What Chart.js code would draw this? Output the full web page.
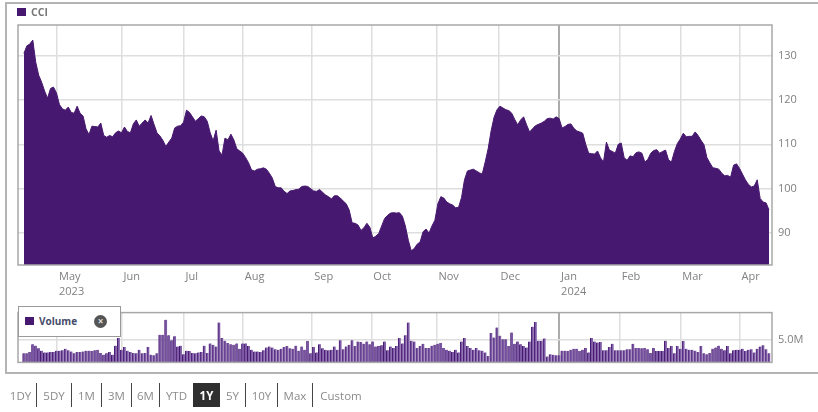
<!DOCTYPE html>
<html>
<head>
<meta charset="utf-8">
<title>CCI</title>
<script src="https://cdn.jsdelivr.net/npm/chart.js@4"></script>
<style>
    html, body { margin: 0; padding: 0; background: #fff; overflow: hidden; }
    body { width: 818px; height: 412px; position: relative; font-family: "Open Sans", sans-serif; }
    #page { position: absolute; left: 0; top: 0; width: 818px; height: 412px; filter: blur(0.45px); }
    #frame { position: absolute; left: 5px; top: 2px; width: 830px; height: 372px; border: 2px solid #b4b4b4; box-sizing: border-box; }
    canvas { position: absolute; left: 0; }
    #price-chart { top: 0; }
    #volume-chart { top: 300px; }
    .swatch { display: inline-block; width: 9px; height: 8px; background: #47186f; }
    #price-legend { position: absolute; left: 17px; top: 4px; font-size: 10.5px; font-weight: 700; color: #777; line-height: 16px; }
    #price-legend .swatch { margin-right: 5px; }
    #volume-legend { position: absolute; left: 18px; top: 306px; width: 103px; height: 31px; box-sizing: border-box; background: #fff; border: 1px solid #999; font-size: 10px; font-weight: 700; color: #444c6a; line-height: 29px; padding-left: 6px; }
    #volume-legend .swatch { margin-right: 5px; }
    #volume-legend .close { position: absolute; left: 75px; top: 8px; width: 13px; height: 13px; border-radius: 50%; background: #555; color: #ddd; font-size: 10px; line-height: 12px; text-align: center; }
    #ranges { position: absolute; left: 5px; top: 383px; height: 24px; display: flex; font-size: 11.5px; color: #8a8a8a; line-height: 25px; text-align: center; }
    #ranges span { box-sizing: border-box; border-right: 1.5px solid #444; }
    #ranges span.noline { border-right: none; }
    #ranges span.active { background: #2f2f2f; color: #fff; font-weight: 700; border-right: none; }
    #ranges span:nth-child(1) { width: 32px; }
    #ranges span:nth-child(2) { width: 35px; }
    #ranges span:nth-child(3) { width: 30px; }
    #ranges span:nth-child(4) { width: 30px; }
    #ranges span:nth-child(5) { width: 28px; }
    #ranges span:nth-child(6) { width: 33px; }
    #ranges span:nth-child(7) { width: 27px; }
    #ranges span:nth-child(8) { width: 26px; }
    #ranges span:nth-child(9) { width: 32px; }
    #ranges span:nth-child(10) { width: 35px; }
    #ranges span:nth-child(11) { width: 56px; }
</style>
</head>
<body>
<div id="page">
    <div id="frame"></div>
    <canvas id="price-chart" width="818" height="303"></canvas>
    <canvas id="volume-chart" width="818" height="75"></canvas>
    <div id="price-legend"><span class="swatch"></span>CCI</div>
    <div id="volume-legend"><span class="swatch"></span>Volume<span class="close">&#215;</span></div>
    <div id="ranges"></div>
</div>
<script>
// Daily closes, one per trading day
const closes = [
    130.5, 132.2, 132.6, 133.5, 128.5, 125.6, 124.0, 122.0, 120.4, 122.6,
    122.9, 121.6, 119.0, 118.0, 117.7, 118.4, 117.2, 117.0, 118.6, 117.0,
    116.4, 113.5, 112.2, 114.1, 114.0, 113.9, 114.8, 112.0, 111.6, 112.0,
    111.7, 112.6, 113.0, 112.6, 113.9, 112.9, 112.6, 114.6, 115.5, 114.1,
    114.8, 115.5, 114.8, 116.5, 114.5, 112.6, 111.9, 110.9, 109.5, 110.5,
    111.4, 113.7, 114.1, 114.2, 115.0, 117.7, 117.2, 116.2, 115.2, 115.8,
    116.4, 116.2, 115.2, 112.6, 110.8, 113.2, 108.5, 107.6, 111.4, 111.0,
    112.3, 111.0, 109.0, 108.5, 108.0, 107.0, 105.8, 104.2, 104.0, 104.4,
    104.5, 104.7, 104.4, 103.5, 102.4, 100.5, 100.2, 100.2, 99.4, 98.9,
    99.5, 99.6, 99.8, 99.9, 100.5, 100.6, 100.5, 100.0, 99.5, 99.4,
    99.8, 99.2, 98.6, 98.2, 97.7, 98.4, 98.4, 97.9, 97.2, 96.6,
    95.2, 92.3, 92.2, 91.8, 90.6, 91.2, 92.2, 91.3, 88.9, 89.3,
    89.9, 91.6, 93.3, 94.0, 94.5, 94.6, 94.5, 94.6, 93.8, 91.6,
    88.4, 86.0, 86.5, 87.5, 88.0, 90.3, 90.9, 90.0, 91.6, 92.9,
    96.6, 98.2, 97.9, 97.0, 96.6, 96.3, 95.7, 95.8, 98.0, 102.0,
    104.0, 104.2, 104.4, 104.0, 103.6, 103.3, 106.0, 109.0, 113.0, 116.1,
    117.8, 118.6, 118.2, 117.8, 117.6, 117.0, 115.6, 114.4, 115.5, 116.2,
    114.4, 112.8, 113.5, 114.2, 114.5, 114.8, 115.2, 115.8, 115.9, 115.7,
    116.2, 115.8, 113.7, 114.0, 114.5, 114.6, 113.6, 113.0, 112.8, 112.5,
    110.0, 108.0, 107.9, 107.8, 108.5, 107.0, 106.0, 110.5, 108.7, 108.4,
    108.0, 110.0, 110.3, 107.0, 106.4, 107.4, 107.2, 108.1, 108.3, 108.0,
    106.0, 106.6, 108.0, 108.6, 108.8, 108.0, 108.4, 108.7, 106.5, 106.0,
    108.4, 110.2, 111.2, 112.5, 111.7, 111.8, 111.8, 112.8, 112.0, 110.9,
    109.9, 107.0, 105.8, 104.7, 104.6, 104.4, 103.5, 102.9, 103.0, 102.6,
    105.3, 105.6, 104.6, 103.3, 102.0, 101.0, 100.4, 100.6, 102.0, 97.8,
    97.0, 96.8, 95.2
];

// Daily volume in millions of shares
const volumes = [
    2.0, 2.0, 2.3, 4.0, 3.7, 3.1, 2.6, 2.2, 2.2, 2.3,
    2.3, 2.6, 2.6, 2.7, 3.0, 2.7, 2.4, 2.0, 2.3, 2.3,
    2.4, 2.6, 2.6, 2.5, 2.7, 2.8, 2.1, 1.7, 2.0, 2.3,
    1.7, 3.7, 5.4, 2.8, 3.4, 2.6, 2.3, 2.1, 2.0, 2.8,
    2.0, 2.1, 3.4, 1.7, 1.6, 2.0, 6.1, 6.1, 9.4, 6.0,
    4.9, 5.8, 3.5, 3.7, 1.8, 2.6, 2.5, 2.1, 2.0, 2.2,
    2.3, 3.7, 2.1, 4.2, 3.9, 3.5, 8.8, 5.4, 4.8, 4.3,
    4.0, 3.9, 4.2, 3.0, 4.2, 4.2, 3.6, 2.8, 2.4, 2.4,
    2.3, 2.7, 3.3, 3.5, 3.3, 2.9, 2.8, 3.0, 3.4, 3.6,
    3.1, 3.0, 3.7, 2.6, 3.5, 2.8, 4.7, 2.0, 3.4, 2.2,
    4.0, 3.1, 2.8, 2.7, 2.8, 3.5, 2.8, 4.9, 2.9, 3.5,
    3.9, 4.9, 3.6, 4.6, 4.5, 4.1, 4.6, 4.0, 4.6, 3.5,
    3.6, 3.8, 4.6, 2.7, 3.5, 3.2, 3.6, 5.4, 4.2, 6.0,
    8.8, 4.8, 4.6, 3.2, 3.6, 4.1, 3.2, 3.2, 3.7, 3.9,
    4.1, 4.3, 3.2, 2.8, 2.6, 2.3, 2.8, 2.2, 4.6, 5.4,
    3.6, 3.2, 2.8, 3.2, 2.7, 2.6, 2.2, 1.4, 6.5, 5.5,
    7.7, 5.9, 5.1, 5.1, 3.6, 6.6, 4.1, 4.6, 4.0, 3.6,
    3.3, 4.6, 7.9, 8.9, 4.8, 4.8, 5.3, 1.3, 1.8, 1.7,
    1.6, 1.6, 2.6, 2.6, 2.5, 2.8, 3.0, 3.0, 2.5, 2.8,
    3.2, 2.2, 5.4, 4.6, 4.4, 4.5, 2.7, 2.7, 3.4, 4.1,
    2.7, 2.7, 2.7, 2.7, 2.9, 2.9, 4.1, 3.2, 3.2, 3.1,
    3.2, 2.9, 2.1, 3.2, 2.5, 2.5, 2.5, 4.8, 3.2, 3.6,
    2.0, 3.6, 3.0, 4.7, 3.0, 2.8, 2.8, 2.6, 2.3, 3.6,
    2.0, 1.8, 2.1, 3.0, 3.3, 3.7, 3.0, 2.7, 3.6, 2.0,
    2.7, 2.8, 2.8, 3.0, 2.5, 2.8, 2.9, 2.2, 3.0, 3.5,
    3.8, 2.9, 2.0
];

// Month ticks sit on the trading day index where each month starts
const monthTicks = [11.2, 33, 54, 74, 97.5, 117.5, 139.5, 160.5, 181, 201.5, 222, 242];
const monthLabels = [['May', '2023'], 'Jun', 'Jul', 'Aug', 'Sep', 'Oct', 'Nov', 'Dec', ['Jan', '2024'], 'Feb', 'Mar', 'Apr'];
const yearStartTick = 181;

const priceTicks = [90, 100, 110, 120, 130];
const volumeTicks = [5];
const rangeButtons = ['1DY', '5DY', '1M', '3M', '6M', 'YTD', '1Y', '5Y', '10Y', 'Max', 'Custom'];
const activeRange = '1Y';

const days = closes.map((c, i) => i);
const purple = '#47186f';
const gridGrey = '#dedede';
const yearGrey = '#ababab';
const labelGrey = '#808080';

/**
 * Grey box round the plot area
 */
const plotBorder = {
    id: 'plotBorder',
    afterDraw(chart) {
        const { ctx, chartArea: a } = chart;
        ctx.save();
        ctx.strokeStyle = '#a8a8a8';
        ctx.lineWidth = 1.5;
        ctx.strokeRect(a.left, a.top, a.right - a.left, a.bottom - a.top);
        ctx.restore();
    }
};

/**
 * Shared x axis options, only the tick labels differ between the two panels
 */
function monthAxis(showLabels, axisHeight) {
    return {
        type: 'linear',
        offset: false,
        min: -2,
        max: 253,
        afterBuildTicks: scale => { scale.ticks = monthTicks.map(v => ({ value: v })); },
        afterFit: scale => { scale.height = axisHeight; },
        grid: {
            offset: false,
            drawTicks: false,
            color: c => (c.tick && c.tick.value === yearStartTick ? yearGrey : gridGrey),
            lineWidth: c => (c.tick && c.tick.value === yearStartTick ? 2 : 1.5)
        },
        border: { display: false },
        ticks: {
            display: showLabels,
            autoSkip: false,
            maxRotation: 0,
            align: 'start',
            labelOffset: 2,
            padding: 4,
            color: labelGrey,
            font: { family: '"Open Sans"', size: 11, lineHeight: 1.36 },
            callback: (value, index) => monthLabels[index]
        }
    };
}

/**
 * Shared y axis options on the right side
 */
function valueAxis(min, max, tickValues, format) {
    return {
        position: 'right',
        min: min,
        max: max,
        afterBuildTicks: scale => { scale.ticks = tickValues.map(v => ({ value: v })); },
        afterFit: scale => { scale.width = 46; },
        grid: { drawTicks: false, color: gridGrey, lineWidth: 1.5 },
        border: { display: false },
        ticks: {
            padding: 6,
            color: labelGrey,
            font: { family: '"Open Sans"', size: 11 },
            callback: format
        }
    };
}

new Chart(document.getElementById('price-chart'), {
    type: 'line',
    data: {
        datasets: [{
            label: 'CCI',
            data: days.map(i => ({ x: i, y: closes[i] })),
            borderColor: purple,
            backgroundColor: purple,
            borderWidth: 1,
            pointRadius: 0,
            tension: 0,
            fill: 'start'
        }]
    },
    options: {
        responsive: false,
        animation: false,
        layout: { padding: { left: 18, top: 25 } },
        plugins: { legend: { display: false }, tooltip: { enabled: false } },
        scales: {
            x: monthAxis(true, 38),
            y: valueAxis(82.8, 136.9, priceTicks, v => v)
        }
    },
    plugins: [plotBorder]
});

new Chart(document.getElementById('volume-chart'), {
    type: 'bar',
    data: {
        datasets: [{
            label: 'Volume',
            data: days.map(i => ({ x: i, y: volumes[i] })),
            backgroundColor: '#7d5aa5',
            borderColor: purple,
            borderWidth: { left: 1 },
            borderSkipped: false,
            barThickness: 2.6
        }]
    },
    options: {
        responsive: false,
        animation: false,
        layout: { padding: { left: 18, top: 3 } },
        plugins: { legend: { display: false }, tooltip: { enabled: false } },
        scales: {
            x: monthAxis(false, 6),
            y: valueAxis(0, 11, volumeTicks, v => v.toFixed(1) + 'M')
        }
    },
    plugins: [plotBorder]
});

// Range buttons under the chart
const ranges = document.getElementById('ranges');
rangeButtons.forEach((name, i) => {
    const span = document.createElement('span');
    span.textContent = name;
    if (name === activeRange) span.className = 'active';
    else if (i === rangeButtons.length - 1 || rangeButtons[i + 1] === activeRange) span.className = 'noline';
    ranges.appendChild(span);
});
</script>
</body>
</html>
